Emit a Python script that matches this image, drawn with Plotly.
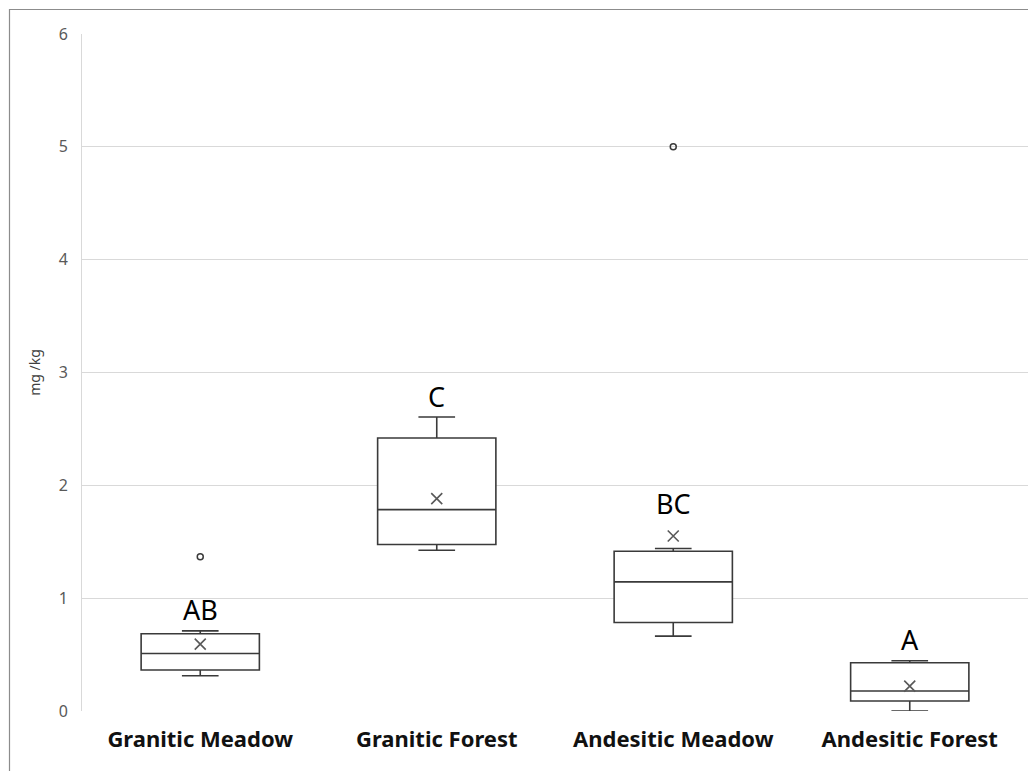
import plotly.graph_objects as go

categories = ["Granitic Meadow", "Granitic Forest", "Andesitic Meadow", "Andesitic Forest"]
q1 = [0.363, 1.475, 0.785, 0.088]
median = [0.51, 1.785, 1.144, 0.177]
q3 = [0.684, 2.419, 1.416, 0.428]
lower_whisker = [0.312, 1.425, 0.664, 0.0]
upper_whisker = [0.71, 2.605, 1.44, 0.445]
means = [0.593, 1.882, 1.551, 0.221]
outlier_cats = ["Granitic Meadow", "Andesitic Meadow"]
outlier_vals = [1.366, 5.0]
letters = ["AB", "C", "BC", "A"]

BOX_LINE = "#3a3a3a"

fig = go.Figure()

fig.add_trace(go.Box(
    x=categories,
    q1=q1, median=median, q3=q3,
    lowerfence=lower_whisker, upperfence=upper_whisker,
    width=0.5, whiskerwidth=0.31,
    fillcolor="white",
    line=dict(color=BOX_LINE, width=1.6),
    boxpoints=False,
    showlegend=False,
    hoverinfo="skip",
))

fig.add_trace(go.Scatter(
    x=categories, y=means, mode="markers",
    marker=dict(symbol="x-thin", size=11, line=dict(color="#595959", width=1.6)),
    showlegend=False, hoverinfo="skip",
))

fig.add_trace(go.Scatter(
    x=outlier_cats, y=outlier_vals, mode="markers",
    marker=dict(symbol="circle-open", size=6, color=BOX_LINE, line=dict(color=BOX_LINE, width=1.5)),
    showlegend=False, hoverinfo="skip",
))

for cat, lab, uw, mn in zip(categories, letters, upper_whisker, means):
    if uw >= mn:
        top, shift = uw, 21
    else:
        top, shift = mn, 33
    fig.add_annotation(
        x=cat, y=top, text=lab, showarrow=False,
        yanchor="middle", yshift=shift,
        font=dict(family="Noto Sans", size=27, color="black"),
    )

# outer border of the chart
fig.add_shape(
    type="rect", xref="paper", yref="paper",
    x0=(9.5 - 82) / 946, x1=1.01, y0=-0.2, y1=(711 - 9.5) / 677,
    line=dict(color="#8c8c8c", width=1.2), fillcolor="rgba(0,0,0,0)",
    layer="below",
)

fig.update_layout(
    width=1028, height=771,
    margin=dict(l=82, r=0, t=34, b=60),
    paper_bgcolor="white", plot_bgcolor="white",
    font=dict(family="Noto Sans"),
    xaxis=dict(
        type="category",
        categoryorder="array", categoryarray=categories,
        range=[-0.5, 3.5],
        showgrid=False, zeroline=False, showline=False,
        ticks="outside", ticklen=9, tickcolor="rgba(0,0,0,0)",
        tickfont=dict(family="Noto Sans", size=22, color="#111111", weight="bold"),
    ),
    yaxis=dict(
        range=[0, 6], dtick=1,
        showgrid=True, gridcolor="#d9d9d9", gridwidth=1,
        zeroline=False,
        showline=True, linecolor="#d9d9d9", linewidth=1,
        ticks="outside", ticklen=10, tickcolor="rgba(0,0,0,0)",
        tickfont=dict(family="Noto Sans", size=16, color="#595959"),
        title=dict(text="mg /kg", font=dict(family="Noto Sans", size=14, color="#404040"), standoff=14),
    ),
)

fig.write_html("out.html")
